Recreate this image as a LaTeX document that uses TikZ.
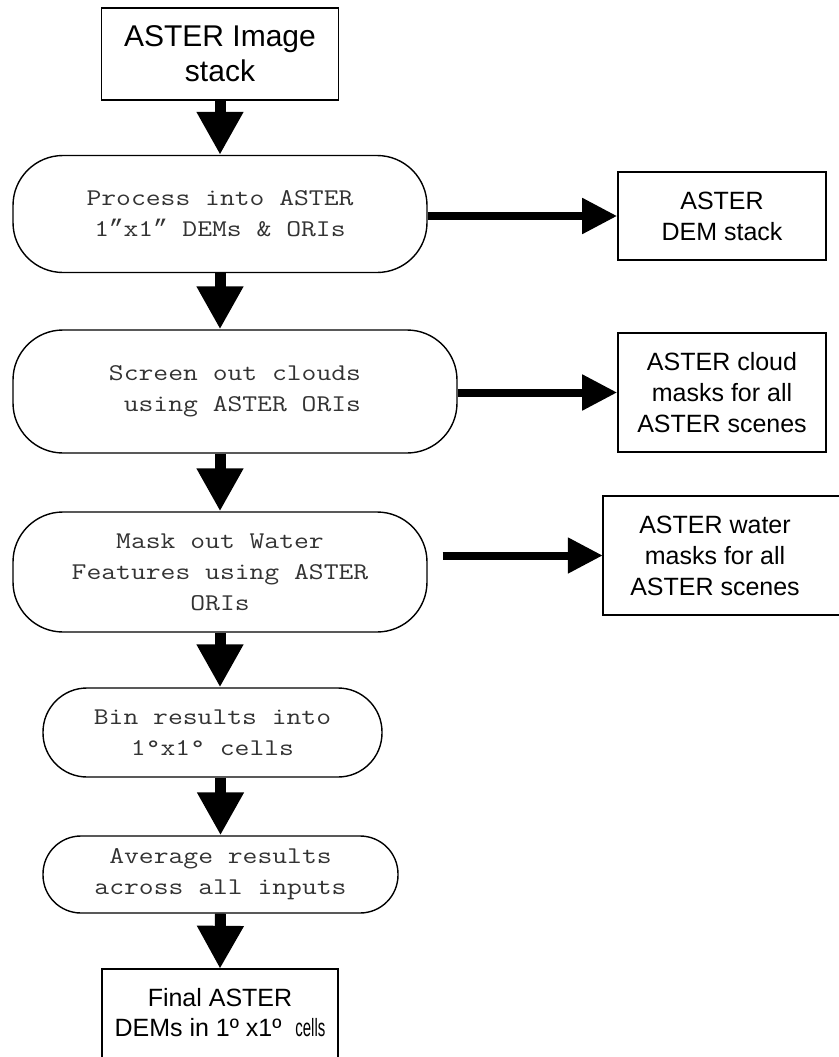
\documentclass[tikz,border=0pt]{standalone}
\usepackage{fontspec}
\setmainfont{Liberation Sans}
\newfontfamily\monof{Latin Modern Mono}[FakeStretch=1.2]
\newfontfamily\quotef{Liberation Mono}
\usetikzlibrary{arrows.meta}
\begin{document}
\begin{tikzpicture}[x=1pt,y=-1pt,
  boxnode/.style={draw, line width=1.6pt, align=center, inner sep=0pt, font=\fontsize{25}{31}\selectfont},
  term/.style={draw, line width=1.4pt, rounded corners=50pt, align=center, inner sep=0pt,
    font=\monof\fontsize{24}{31}\selectfont, text=black!80},
  downarrow/.style={line width=11pt, -{Triangle[width=44pt,length=43pt]}},
  sidearrow/.style={line width=8pt, -{Triangle[width=34pt,length=35pt]}}
]
\useasboundingbox (0,0) rectangle (838,1057);
\fill[white] (0,0) rectangle (838,1057);

% main column
\node[boxnode, minimum width=237pt, minimum height=92pt, font=\fontsize{30}{35}\selectfont] (top) at (220,54) {ASTER Image\\stack};
\node[term, minimum width=414pt, minimum height=117pt] (proc) at (220,214) {Process into ASTER\\1{\quotef”}x1{\quotef”} DEMs \& ORIs};
\node[term, minimum width=444pt, minimum height=123pt] (screen) at (235,391.5) {Screen out clouds\\\ using ASTER ORIs};
\node[term, minimum width=414pt, minimum height=120pt] (mask) at (220,572) {Mask out Water\\Features using ASTER\\ORIs};
\node[term, minimum width=339pt, minimum height=89pt, rounded corners=44pt] (bin) at (212.5,732.5) {Bin results into\\1°x1° cells};
\node[term, minimum width=355pt, minimum height=77pt, rounded corners=38pt] (avg) at (220.5,874.5) {Average results\\across all inputs};
\node[inner sep=0pt, minimum width=236pt, minimum height=88pt, align=center, font=\fontsize{25}{30}\selectfont] (final) at (220,1013)
  {Final ASTER\\DEMs in 1º x1º \ \scalebox{0.6}[1]{cells}};
\draw[line width=1.6pt] ([yshift=-4pt]final.south west) -- (final.north west) -- (final.north east) -- ([yshift=-4pt]final.south east);

% side outputs
\node[boxnode, minimum width=208pt, minimum height=88pt] (dem) at (722,216) {ASTER\\DEM stack};
\node[boxnode, minimum width=208pt, minimum height=119pt] (cloud) at (722,392.5) {ASTER cloud\\masks for all\\ASTER scenes};
\node[inner sep=0pt, minimum width=224pt, minimum height=119pt, align=center, font=\fontsize{25}{31}\selectfont] (water) at (715,555.5)
  {ASTER water\\masks for all\\ASTER scenes};
\draw[line width=1.6pt] ([xshift=20pt]water.north east) -- (water.north west) -- (water.south west) -- ([xshift=20pt]water.south east);

% vertical flow
\draw[downarrow] (top.south) -- (proc.north);
\draw[downarrow] (proc.south) -- (proc.south |- screen.north);
\draw[downarrow] (mask.north |- screen.south) -- (mask.north);
\draw[downarrow] (mask.south) -- (mask.south |- bin.north);
\draw[downarrow] (avg.north |- bin.south) -- (avg.north);
\draw[downarrow] (avg.south) -- (final.north);

% side arrows
\draw[sidearrow] (dem.west -| proc.east) -- (dem.west);
\draw[sidearrow] (cloud.west -| screen.east) -- (cloud.west);
\draw[sidearrow] ([xshift=15pt]water.west -| mask.east) -- (water.west);
\end{tikzpicture}
\end{document}
